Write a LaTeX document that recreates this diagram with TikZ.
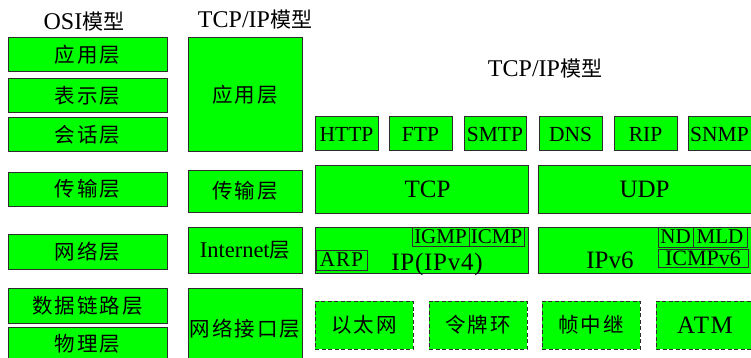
\documentclass[tikz,border=0pt]{standalone}
\usepackage{fontspec}
\setmainfont{Liberation Serif}
\newfontfamily\cjk[LetterSpace=10]{Noto Sans CJK SC}
\newfontfamily\cjkt{Noto Sans CJK SC}
\definecolor{boxgreen}{RGB}{0,255,0}
\definecolor{edge}{RGB}{45,45,45}
\begin{document}
\begin{tikzpicture}[x=1pt,y=-1pt,
  box/.style={draw=edge, fill=boxgreen, line width=1pt, inner sep=0pt,
    text height=15pt, text depth=0pt, font=\fontsize{20.5}{24}\selectfont\cjk},
  proto/.style={box, text height=14.2pt, font=\fontsize{21.5}{26}\selectfont},
  big/.style={box, text height=16.5pt, font=\fontsize{25}{30}\selectfont},
  small/.style={box, fill=none, text height=13.8pt, font=\fontsize{21}{25}\selectfont},
  dbox/.style={box, dash pattern=on 4pt off 2.5pt},
  ttl/.style={inner sep=0pt, text height=16pt, text depth=0pt, font=\fontsize{24}{28}\selectfont},
  lbl/.style={inner sep=0pt, text height=16.5pt, text depth=0pt, font=\fontsize{25}{30}\selectfont}
]
\useasboundingbox (0,0) rectangle (751,358);
\clip (0,0) rectangle (751,358);

% titles
\node[ttl] (t1) at (84,22) {OSI{\fontsize{21}{25}\selectfont\cjkt 模型}};
\node[ttl] (t2) at (255,20) {TCP/IP{\fontsize{21}{25}\selectfont\cjkt 模型}};
\node[ttl] (t3) at (545,69) {TCP/IP{\fontsize{21}{25}\selectfont\cjkt 模型}};

% OSI column
\node[box, minimum width=159, minimum height=34] (osi7) at (87.5,55) {应用层};
\node[box, minimum width=159, minimum height=34] (osi6) at (87.5,96) {表示层};
\node[box, minimum width=159, minimum height=34] (osi5) at (87.5,135) {会话层};
\node[box, minimum width=159, minimum height=34] (osi4) at (87.5,189) {传输层};
\node[box, minimum width=159, minimum height=35] (osi3) at (87.5,251.5) {网络层};
\node[box, minimum width=159, minimum height=35] (osi2) at (87.5,305.5) {数据链路层};
\node[box, minimum width=159, minimum height=34] (osi1) at (87.5,344) {物理层};

% TCP/IP column
\node[box, minimum width=114, minimum height=114] (tapp) at (245,95) {应用层};
\node[box, minimum width=114, minimum height=42] (ttran) at (245,191) {传输层};
\node[box, minimum width=114, minimum height=46, text height=14.8pt, font=\fontsize{22.5}{27}\selectfont] (tinet) at (245,250) {Internet{\fontsize{20.5}{24}\selectfont\cjk 层}};
\node[box, minimum width=114, minimum height=82] (tlink) at (245,329) {网络接口层};

% application protocols
\node[proto, minimum width=63, minimum height=34] (http) at (346.5,134) {HTTP};
\node[proto, minimum width=63, minimum height=34] (ftp) at (420.5,134) {FTP};
\node[proto, minimum width=62, minimum height=34] (smtp) at (495,134) {SMTP};
\node[proto, minimum width=63, minimum height=34] (dns) at (570.5,134) {DNS};
\node[proto, minimum width=63, minimum height=34] (rip) at (645.5,134) {RIP};
\node[proto, minimum width=63, minimum height=34] (snmp) at (719.5,134) {SNMP};

% transport
\node[big, minimum width=213, minimum height=48] (tcp) at (421.5,189) {\hspace{12pt}TCP};
\node[big, minimum width=213, minimum height=48] (udp) at (644.5,189) {UDP};

% internet layer
\node[box, minimum width=213, minimum height=46] (ipv4) at (421.5,250) {};
\node[box, minimum width=213, minimum height=46] (ipv6) at (644.5,250) {};
\node[small, minimum width=57, minimum height=19] (igmp) at (440.5,236.5) {IGMP};
\node[small, minimum width=55, minimum height=19] (icmp) at (496.5,236.5) {ICMP};
\node[small, minimum width=51, minimum height=20, font=\fontsize{21}{25}\selectfont\addfontfeature{LetterSpace=6}] (arp) at (341.5,260) {ARP};
\node[lbl, font=\fontsize{25}{30}\selectfont\addfontfeature{LetterSpace=3}] (ipv4t) at (437,262) {IP(IPv4)};
\node[small, minimum width=35, minimum height=20] (nd) at (675.5,237) {ND};
\node[small, minimum width=54, minimum height=20] (mld) at (720,237) {MLD};
\node[small, minimum width=90, minimum height=18, text height=14.5pt, font=\fontsize{22}{26}\selectfont] (icmpv6) at (703,258) {ICMPv6};
\node[lbl] (ipv6t) at (610,260) {IPv6};

% network interface
\node[dbox, minimum width=98, minimum height=48] (eth) at (364,325) {以太网};
\node[dbox, minimum width=98, minimum height=48] (tok) at (478,325) {令牌环};
\node[dbox, minimum width=98, minimum height=48] (fr) at (591,325) {帧中继};
\node[dbox, minimum width=98, minimum height=48, text height=16.5pt, font=\fontsize{25}{30}\selectfont\addfontfeature{LetterSpace=6}] (atm) at (705,325) {ATM};
\end{tikzpicture}
\end{document}
